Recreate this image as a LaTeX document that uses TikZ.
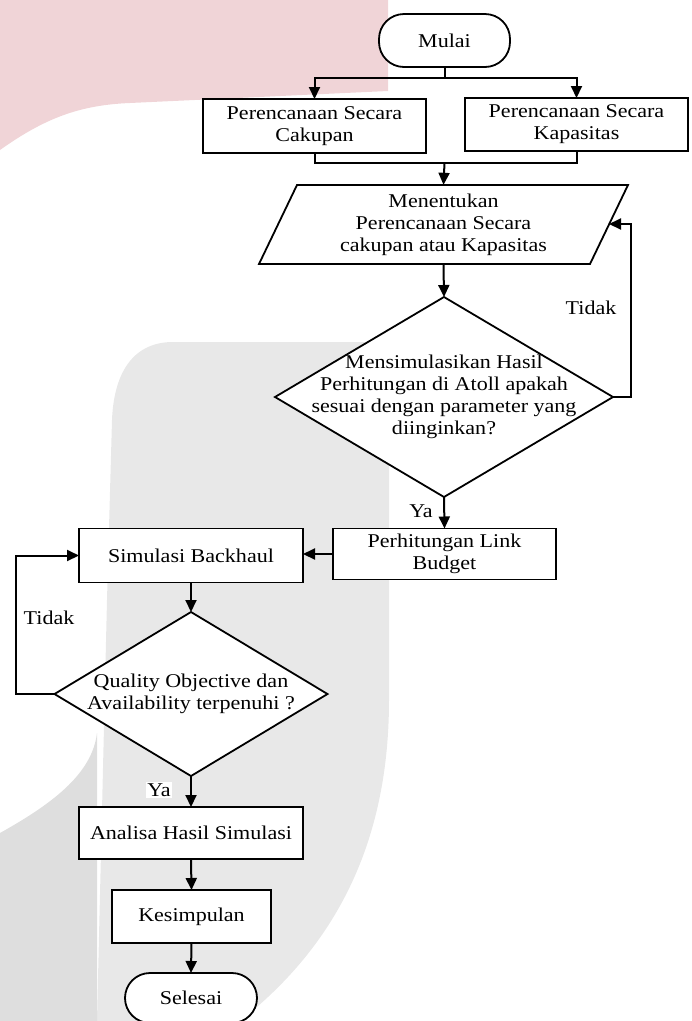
\documentclass[tikz,border=0pt]{standalone}
\usepackage{fontspec}
\setmainfont[FakeStretch=1.13]{Liberation Serif}
\usetikzlibrary{arrows.meta,shapes.geometric}
\definecolor{wmpink}{RGB}{240,212,215}
\definecolor{wmgray}{RGB}{232,232,232}
\definecolor{wmgraydk}{RGB}{222,222,222}
\begin{document}
\begin{tikzpicture}[x=1pt,y=-1pt,
  txt/.style={font=\fontsize{19.5}{22}\selectfont, align=center, inner sep=0pt},
  box/.style={txt, draw, line width=1.8pt, fill=white, rectangle, outer sep=0pt},
  term/.style={box, rounded corners=25pt},
  dia/.style={draw, diamond, line width=1.8pt, fill=white, inner sep=0pt, outer sep=0pt},
  arr/.style={line width=2pt, -{Triangle[length=12pt,width=11pt]}},
  ln/.style={line width=2pt}]
\useasboundingbox (0,0) rectangle (692,1021);
\clip (0,0) rectangle (692,1021);
% watermark background
\fill[wmpink] (0,0) -- (388,0) -- (388,91) -- (130,103) .. controls (80,105) and (45,118) .. (0,150) -- cycle;
\fill[wmgray] (173,342) -- (389,342) -- (389,700) .. controls (389,850) and (330,950) .. (240,1021) -- (97,1021) -- (107,600) -- (112,420) .. controls (114,370) and (135,342) .. (173,342) -- cycle;
\fill[wmgraydk] (0,833) .. controls (50,805) and (92,775) .. (97,733) -- (97,1021) -- (0,1021) -- cycle;
% nodes
\node[term, minimum width=131pt, minimum height=53pt] (mulai) at (444.5,40.5) {Mulai};
\node[box, minimum width=223pt, minimum height=54pt] (cak) at (314.5,126) {Perencanaan Secara\\Cakupan};
\node[box, minimum width=223pt, minimum height=53pt] (kap) at (576.5,124.5) {Perencanaan Secara\\Kapasitas};
\draw[line width=1.8pt, fill=white] (297,185) -- (628,185) -- (590,264) -- (259,264) -- cycle;
\node[txt, minimum width=300pt, minimum height=79pt] (par) at (443.5,224.5) {Menentukan\\Perencanaan Secara\\cakupan atau Kapasitas};
\coordinate (parR) at (609,224);
\node[dia, minimum width=338pt, minimum height=200pt,
  label={[txt]center:{Mensimulasikan Hasil\\Perhitungan di Atoll apakah\\sesuai dengan parameter yang\\diinginkan?}}] (d1) at (444,397) {};
\node[box, minimum width=223pt, minimum height=51pt] (lb) at (444.5,554) {Perhitungan Link\\Budget};
\node[box, minimum width=224pt, minimum height=54pt] (sb) at (191,555.5) {Simulasi Backhaul};
\node[dia, minimum width=273pt, minimum height=164pt,
  label={[txt]center:{Quality Objective dan\\Availability terpenuhi ?}}] (d2) at (191,694) {};
\node[box, minimum width=224pt, minimum height=52pt] (an) at (191,833) {Analisa Hasil Simulasi};
\node[box, minimum width=159pt, minimum height=53pt] (kes) at (191.5,916.5) {Kesimpulan};
\node[term, minimum width=132pt, minimum height=50pt] (sel) at (191,998) {Selesai};
% labels
\node[txt] (t1) at (591,308) {Tidak};
\node[txt] (t2) at (49,618) {Tidak};
\node[txt] (y1) at (421,511) {Ya};
\node[txt, fill=white, inner sep=1.5pt] (y2) at (159,790) {Ya};
% connectors
\coordinate (j1) at (444.5,78);
\coordinate (j2) at (444.5,163);
\draw[ln] (mulai.south) -- (j1);
\draw[arr] (j1) -| (cak.north);
\draw[arr] (j1) -| (kap.north);
\draw[ln] (cak.south) |- (j2);
\draw[ln] (kap.south) |- (j2);
\draw[arr] (j2) -- (par.north);
\draw[arr] (par.south) -- (d1.north);
\draw[arr] (d1.east) -- ++(18,0) |- (parR);
\draw[arr] (d1.south) -- (lb.north);
\draw[arr] (lb.west) -- (lb.west -| sb.east);
\draw[arr] (sb.south) -- (d2.north);
\draw[arr] (d2.west) -- ++(-39,0) |- (sb.west);
\draw[arr] (d2.south) -- (an.north);
\draw[arr] (an.south) -- (kes.north);
\draw[arr] (kes.south) -- (sel.north);
\end{tikzpicture}
\end{document}
